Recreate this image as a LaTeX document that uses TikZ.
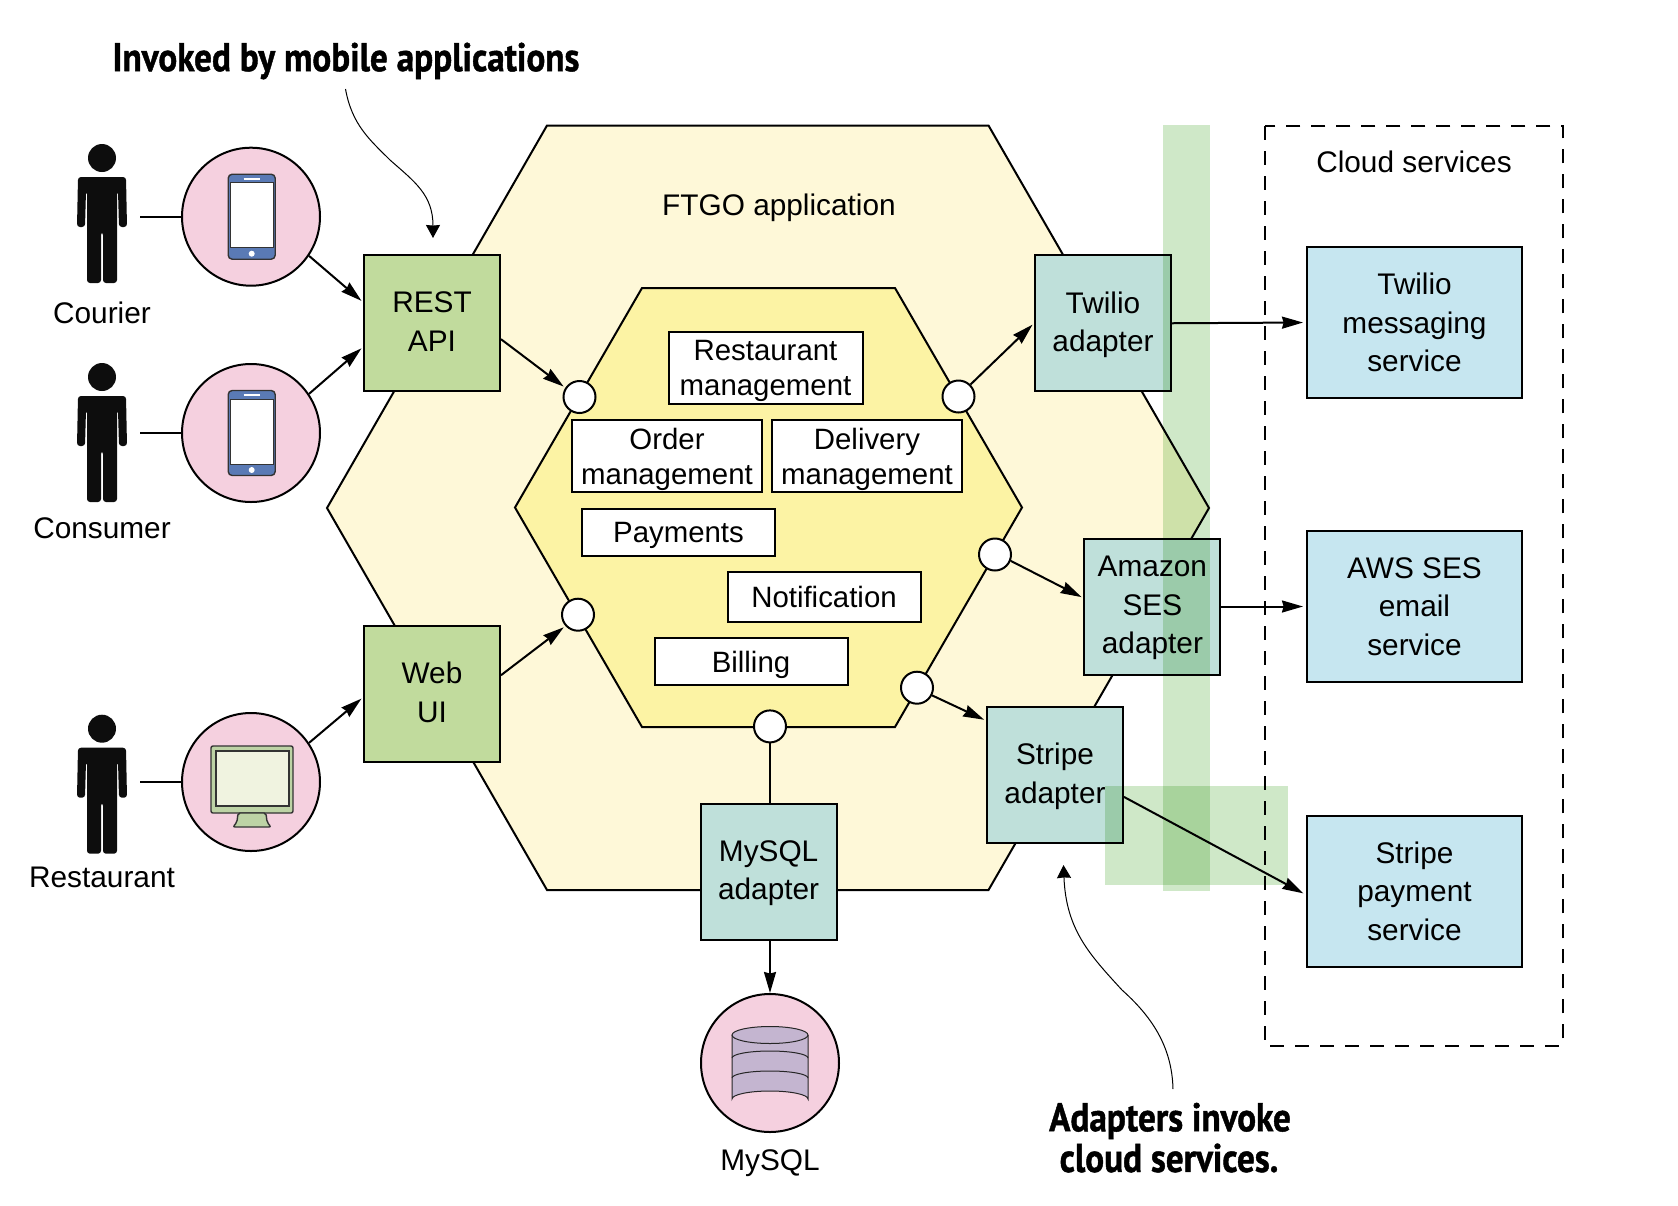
\documentclass[tikz,border=0pt]{standalone}
\usepackage{fontspec}
\usepackage{graphicx}
\setmainfont{Liberation Sans}
\newfontfamily\notefont{PT Sans}[BoldFeatures={FakeBold=1.2}]
\usepackage{xcolor}
\usetikzlibrary{arrows.meta}

\definecolor{outerhex}{HTML}{FEF8D8}
\definecolor{innerhex}{HTML}{FCF3A4}
\definecolor{apppink}{HTML}{F5D0DF}
\definecolor{inboundgreen}{HTML}{C1DB9D}
\definecolor{monitorgreen}{HTML}{BDD3A5}
\definecolor{adapterteal}{HTML}{BFE0DA}
\definecolor{cloudblue}{HTML}{C6E6F0}
\definecolor{stripgreen}{HTML}{CFE8C8}
\definecolor{phoneblue}{HTML}{5A7AB5}
\definecolor{screenpale}{HTML}{F0F3E0}
\definecolor{dbpurple}{HTML}{C4B5D0}

\tikzset{
    label text/.style={font=\fontsize{14.9}{19.3}\selectfont, align=center, inner sep=0pt},
    boxed/.style={label text, draw, line width=1pt, minimum width=68pt, minimum height=68pt},
    inbound/.style={boxed, fill=inboundgreen, text depth=1.5pt},
    adapter/.style={boxed, fill=adapterteal, text depth=1.5pt},
    cloudsvc/.style={boxed, fill=cloudblue, minimum width=107.5pt, minimum height=75.5pt},
    module/.style={boxed, font=\fontsize{14.7}{17.4}\selectfont, fill=white, minimum width=95pt, minimum height=36pt, text depth=0pt},
    shortmodule/.style={module, minimum width=96.5pt, minimum height=23.5pt},
    ringed/.style={circle, draw, line width=1pt, fill=apppink, minimum size=69pt, inner sep=0pt},
    port/.style={circle, draw, line width=1pt, fill=white, minimum size=16pt, inner sep=0pt},
    flow/.style={line width=1pt, -{Stealth[length=10.5pt,width=6pt,inset=.8pt]}, shorten >=1pt},
    plainlink/.style={line width=1pt},
    hexline/.style={draw, line width=1pt},
    note/.style={line width=.5pt, -{Stealth[length=6.5pt,width=7pt,inset=.3pt]}},
    notetext/.style={font=\notefont\bfseries\fontsize{20}{21}\selectfont, inner sep=0pt},
}

\newcommand{\personfig}[3]{
    \begin{scope}[shift={(#2,#3)}]
        \fill[black!95] (0,0) circle (14);
        \fill[black!95, rounded corners=1.5pt] (-24,19) -- (24,19) -- (25,69) -- (17,69) -- (16,33) -- (15,33)
            -- (15,125) -- (1,125) -- (1,74) -- (-1,74) -- (-1,125) -- (-15,125) -- (-15,33) -- (-16,33)
            -- (-17,69) -- (-25,69) -- cycle;
        \coordinate (#1) at (38,59);
    \end{scope}
}

\newcommand{\phoneicon}[2]{
    \begin{scope}[shift={(#1,#2)}]
        \draw[fill=phoneblue, draw=black!80, line width=.7pt, rounded corners=2pt] (-23.5,-42.5) rectangle (23.5,42.5);
        \draw[fill=white, draw=black!80, line width=.5pt] (-21.5,-34) rectangle (21.5,31);
        \draw[white, line width=.8pt] (-8,-38) -- (8,-38);
        \fill[white] (0,37) circle (3);
    \end{scope}
}

\begin{document}
\begin{tikzpicture}[x=.5pt, y=-.5pt]
    \useasboundingbox (0,0) rectangle (1678,1206);

    % hexagons
    \draw[hexline, fill=outerhex] (547,125.5) -- (988.5,125.5) -- (1209,508) -- (988.5,890) -- (547,890) -- (327,508) -- cycle;
    \draw[hexline, fill=innerhex] (642,288) -- (895,288) -- (1022,507.5) -- (895,727) -- (642,727) -- (515,507.5) -- cycle;
    \node[label text] (ftgo) at (779,207.5) {FTGO application};

    % people and their devices
    \personfig{courierside}{102}{158}
    \personfig{consumerside}{102}{377}
    \personfig{restaurantside}{102}{728.7}

    \node[label text] (courierlabel) at (102,313) {Courier};
    \node[label text] (consumerlabel) at (102,528) {Consumer};
    \node[label text] (restaurantlabel) at (102,877) {Restaurant};

    \node[ringed] (courierapp) at (251,216.7) {};
    \node[ringed] (consumerapp) at (251,433) {};
    \node[ringed] (restaurantapp) at (251,782) {};
    \node[ringed] (mysqldb) at (770,1063) {};
    \node[label text] (mysqllabel) at (770,1163) {MySQL};

    \phoneicon{251.7}{216.7}
    \phoneicon{251.7}{433}

    \draw[fill=monitorgreen, draw=black!80, line width=.7pt, rounded corners=1pt] (211,746) rectangle (293,813);
    \draw[fill=screenpale, draw=black!80, line width=.7pt] (216,751) rectangle (289,806);
    \draw[fill=monitorgreen, draw=black!80, line width=.7pt, rounded corners=1pt] (238,813) -- (266,813) -- (267,822) -- (271,827) -- (233,827) -- (237,822) -- cycle;

    \draw[fill=dbpurple, draw=black!85, line width=.5pt] (732,1035) -- (732,1099) arc[start angle=180, end angle=360, x radius=38, y radius=8] -- (808,1035);
    \draw[fill=dbpurple, draw=black!85, line width=.5pt] (770,1035) ellipse (38 and 8.5);
    \draw[draw=black!85, line width=.5pt] (732,1058) arc[start angle=180, end angle=360, x radius=38, y radius=7];
    \draw[draw=black!85, line width=.5pt] (732,1078) arc[start angle=180, end angle=360, x radius=38, y radius=7];

    % inner modules
    \node[module, minimum width=97pt] (restaurantmod) at (765.5,367.7) {Restaurant\\management};
    \node[module] (ordermod) at (667,456) {Order\\management};
    \node[module] (deliverymod) at (867,456) {Delivery\\management};
    \node[shortmodule] (paymentsmod) at (678.5,532.5) {Payments};
    \node[shortmodule, minimum height=25pt] (notificationmod) at (824,596.5) {Notification};
    \node[shortmodule] (billingmod) at (751,661.8) {Billing};

    % ports
    \node[port] (restport) at (579.5,397) {};
    \node[port] (webport) at (578,614.7) {};
    \node[port] (twilioport) at (958.5,396.5) {};
    \node[port] (sesport) at (995,554.5) {};
    \node[port] (stripeport) at (917,687.7) {};
    \node[port] (mysqlport) at (770,726.4) {};

    % adapters
    \node[inbound] (restapi) at (432,323.25) {REST\\API};
    \node[inbound] (webui) at (432,693.7) {Web\\UI};
    \node[adapter] (twilioad) at (1103,323.25) {Twilio\\adapter};
    \node[adapter] (sesad) at (1152.4,606.5) {Amazon\\SES\\adapter};
    \node[adapter] (stripead) at (1055,774.5) {Stripe\\adapter};
    \node[adapter] (mysqlad) at (768.6,871.5) {MySQL\\adapter};

    % green bands
    \begin{scope}[blend mode=multiply]
        \fill[stripgreen] (1163,125) rectangle (1210,890.7);
        \fill[stripgreen] (1105,786.3) rectangle (1288,885.3);
    \end{scope}

    % cloud services
    \draw[line width=1pt, dash pattern=on 7pt off 5.5pt] (1265,126) rectangle (1563,1045.7);
    \node[label text] (cloudlabel) at (1414,162) {Cloud services};
    \node[cloudsvc] (twiliosvc) at (1414.5,322.5) {Twilio\\messaging\\service};
    \node[cloudsvc] (awssvc) at (1414.5,606.5) {AWS SES\\email\\service};
    \node[cloudsvc] (stripesvc) at (1414.5,891) {Stripe\\payment\\service};

    \draw[plainlink] (courierside |- courierapp.west) -- (courierapp.west);
    \draw[plainlink] (consumerside |- consumerapp.west) -- (consumerapp.west);
    \draw[plainlink] (restaurantside |- restaurantapp.west) -- (restaurantapp.west);

    \draw[flow] (courierapp.-34) -- (restapi.163);
    \draw[flow] (consumerapp.34) -- (restapi.-161);
    \draw[flow] (restaurantapp.34) -- (webui.-177);
    \draw[flow] (restapi.-13) -- (restport.147);
    \draw[flow] (webui.15) -- (webport.-138);
    \draw[flow] (twilioport.45) -- (twilioad.west);
    \draw[flow] (sesport.-22) -- (sesad.173);
    \draw[flow] (stripeport.-27) -- (stripead.142);
    \draw[flow, shorten >=1.5pt] (twilioad.east) -- (twiliosvc.west);
    \draw[flow, shorten >=1.5pt] (sesad.east) -- (awssvc.west);
    \draw[flow, shorten >=1.5pt] (stripead.-18) -- (stripesvc.-178);
    \draw[plainlink] (mysqlport) -- (mysqlport |- mysqlad.north);
    \draw[flow, shorten >=0pt] (mysqldb |- mysqlad.south) -- (mysqldb.north);

    % notes
    \node[notetext] (invokednote) at (346,61) {\scalebox{.88}[1]{Invoked by mobile applications}};
    \node[notetext] (adaptersnote) at (1170,1121) {\scalebox{.88}[1]{Adapters invoke}};
    \node[notetext] (cloudnote) at (1169,1158) {\scalebox{.88}[1]{cloud services.}};

    \coordinate (invokedfrom) at (345.5,89);
    \coordinate (invokedto) at (433,238);
    \coordinate (adaptersfrom) at (1173,1089);
    \coordinate (adaptersto) at (1063.5,865);
    \draw[note] (invokedfrom) .. controls (352,125) and (370,140) .. (390,160) .. controls (415,182) and (433,195) .. (invokedto);
    \draw[note] (adaptersfrom) .. controls (1172,1045) and (1150,1015) .. (1122,990) .. controls (1090,955) and (1066,930) .. (adaptersto);
\end{tikzpicture}
\end{document}
